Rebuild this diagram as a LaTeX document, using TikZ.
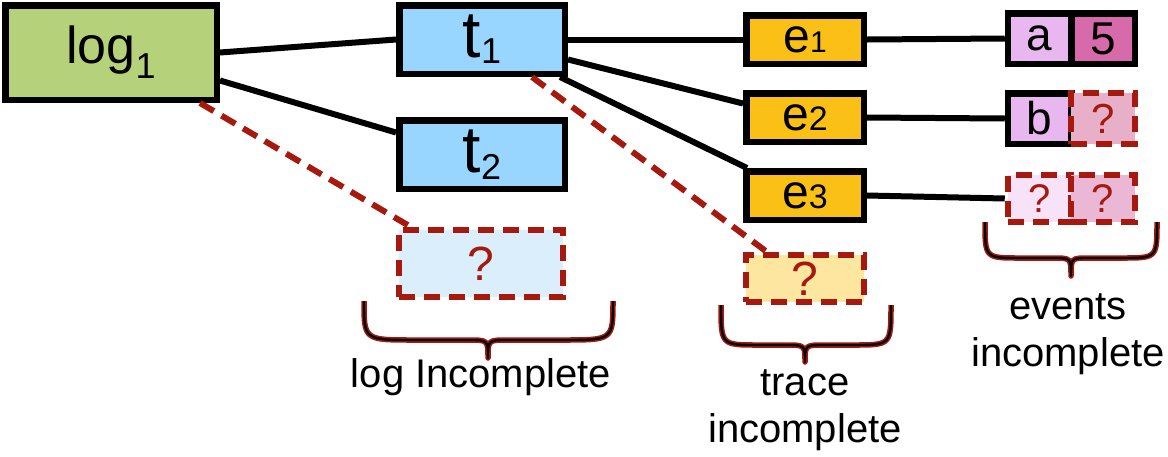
\documentclass[tikz,border=0pt]{standalone}
\usepackage{fontspec}
\setmainfont{Liberation Sans}
\definecolor{dred}{RGB}{165,25,15}
\definecolor{cgreen}{RGB}{181,209,122}
\definecolor{cblue}{RGB}{153,214,255}
\definecolor{clblue}{RGB}{218,238,252}
\definecolor{corange}{RGB}{250,192,22}
\definecolor{clorange}{RGB}{253,230,160}
\definecolor{cpurple}{RGB}{233,183,240}
\definecolor{cmag}{RGB}{214,106,170}
\definecolor{cpinkq}{RGB}{232,176,200}
\definecolor{cvlpink}{RGB}{248,226,248}
\definecolor{cpinkq2}{RGB}{234,184,212}
\begin{document}
\begin{tikzpicture}[x=1pt,y=-1pt,
  box/.style={draw=black, line width=6.5pt, inner sep=0pt},
  qbox/.style={draw=dred, line width=6pt, dash pattern=on 16pt off 9pt, inner sep=0pt, text=dred},
  conn/.style={draw=black, line width=6pt},
  dconn/.style={draw=dred, line width=6pt, dash pattern=on 16pt off 9pt},
  lbl/.style={inner sep=0pt, align=center, font=\fontsize{40}{47}\selectfont},
  bigf/.style={font=\fontsize{52}{52}\selectfont},
  tf/.style={font=\fontsize{66}{66}\selectfont},
  ef/.style={font=\fontsize{48}{48}\selectfont},
  cf/.style={font=\fontsize{46}{46}\selectfont},
  qf/.style={font=\fontsize{48}{48}\selectfont},
  attr/.style={minimum width=63.5pt, minimum height=50.5pt, outer sep=0pt},
  bracered/.style={draw=dred, line width=5.5pt, line join=round},
  braceblack/.style={draw=black, line width=2.4pt, line join=round}
]
\useasboundingbox (0,0) rectangle (1168,456);

% main nodes
\node[box, bigf, fill=cgreen, minimum width=211.5pt, minimum height=94.5pt] (log1) at (111,52.5)
  {log\raisebox{-15pt}{\fontsize{36}{36}\selectfont 1}};
\node[box, tf, fill=cblue, minimum width=165.5pt, minimum height=68.5pt] (t1) at (482,39.5)
  {\raisebox{-4pt}{t\raisebox{-6pt}{\fontsize{36}{36}\selectfont 1}}};
\node[box, tf, fill=cblue, minimum width=165.5pt, minimum height=68.5pt] (t2) at (482,154.5)
  {\raisebox{-4pt}{t\raisebox{-7pt}{\fontsize{36}{36}\selectfont 2}}};
\node[qbox, qf, fill=clblue, minimum width=164pt, minimum height=67pt] (lq) at (481,263.5) {?};

\node[box, ef, fill=corange, minimum width=117.5pt, minimum height=48.5pt] (e1) at (805,39.5)
  {e{\fontsize{30}{30}\selectfont 1}};
\node[box, ef, fill=corange, minimum width=117.5pt, minimum height=48.5pt] (e2) at (805,117.5)
  {e{\fontsize{34}{34}\selectfont 2}};
\node[box, ef, fill=corange, minimum width=117.5pt, minimum height=48.5pt] (e3) at (805,195.5)
  {e{\fontsize{34}{34}\selectfont 3}};
\node[qbox, qf, fill=clorange, minimum width=118pt, minimum height=47pt] (tq) at (805,278.5) {?};

% event attributes (sharing the middle border)
\node[box, cf, fill=cpurple, attr] (a) at (1039.5,38.5) {a};
\node[box, cf, fill=cmag, attr, anchor=west] (five) at (a.east) {5};
\node[box, cf, fill=cpurple, attr] (b) at (1039.5,118.5) {b};
\node[qbox, font=\fontsize{42}{42}\selectfont, fill=cpinkq, attr, anchor=west] (bq) at (b.east) {?};
\node[qbox, font=\fontsize{40}{40}\selectfont, fill=cvlpink, attr, minimum height=47pt] (r3a) at (1039.5,198.5) {?};
\node[qbox, font=\fontsize{40}{40}\selectfont, fill=cpinkq2, attr, minimum height=47pt, anchor=west] (r3b) at (r3a.east) {?};

% connectors
\draw[conn] (log1.east) -- (t1.west);
\draw[conn] ([yshift=-28pt]log1.east) -- ([yshift=22pt]t2.west);
\draw[conn] (t1.east) -- (e1.west);
\draw[conn] ([yshift=-20pt]t1.east) -- ([yshift=14pt]e2.west);
\draw[conn] ([xshift=-8pt]t1.south east) -- ([xshift=4pt]e3.north west);
\draw[conn] (e1.east) -- ([xshift=-3pt]a.west);
\draw[conn] (e2.east) -- ([xshift=-3pt]b.west);
\draw[conn] (e3.east) -- ([xshift=-3pt]r3a.west);
\draw[dconn] ([xshift=-20pt]log1.south east) -- ([xshift=15pt]lq.north west);
\draw[dconn] ([xshift=-36pt]t1.south east) -- ([xshift=24pt]tq.north west);

% braces
\foreach \st in {bracered,braceblack}{
  \draw[\st] (364,301) .. controls (364,340) .. (414,340) -- (468,340)
     .. controls (488,340) .. (488,358) .. controls (488,340) .. (508,340)
     -- (563,340) .. controls (613,340) .. (613,301);
  \draw[\st] (721,305) .. controls (721,345) .. (758,345) -- (785,345)
     .. controls (805,345) .. (805,362) .. controls (805,345) .. (825,345)
     -- (854,345) .. controls (891,345) .. (891,305);
  \draw[\st] (985,222) .. controls (985,258) .. (1020,258) -- (1053,258)
     .. controls (1071,258) .. (1071,276) .. controls (1071,258) .. (1089,258)
     -- (1122,258) .. controls (1157,258) .. (1157,222);
}

% labels
\node[lbl] (llog) at (481,377) {log Incomplete};
\node[lbl] (ltrace) at (805,410) {trace\\incomplete};
\node[lbl] (levents) at (1068,334) {events\\incomplete};
\end{tikzpicture}
\end{document}
